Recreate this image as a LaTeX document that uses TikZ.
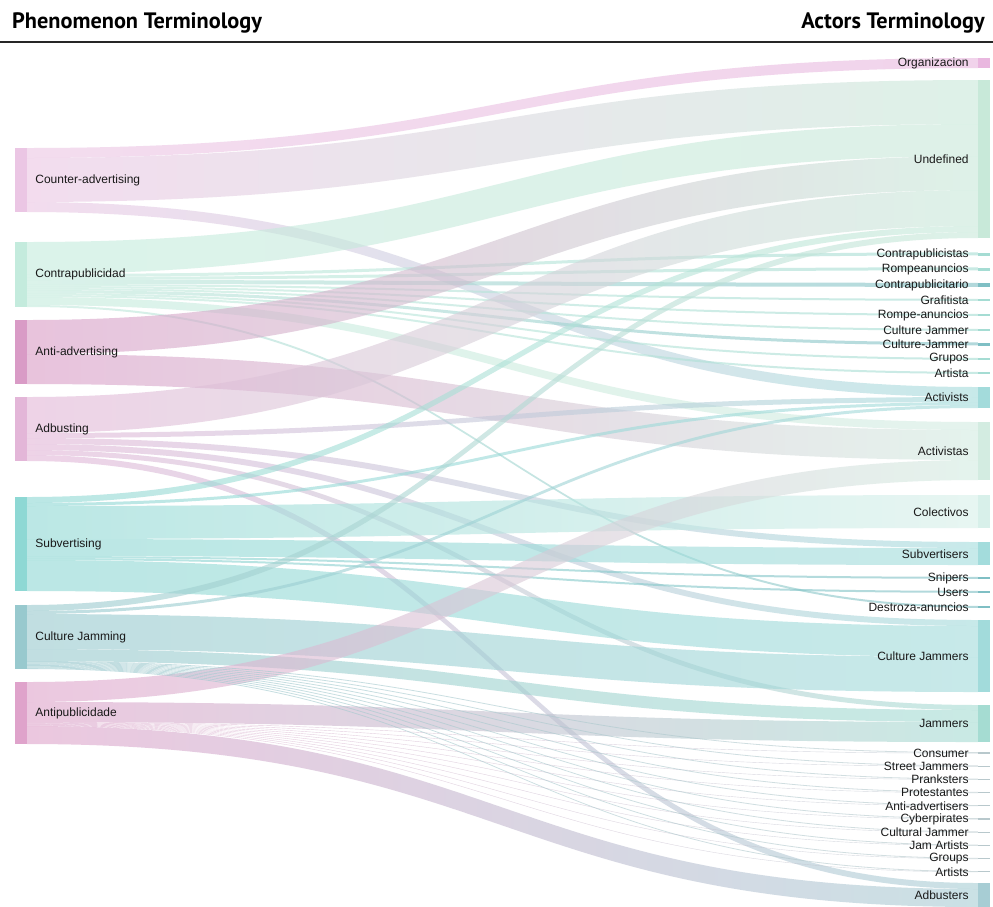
\documentclass[tikz,border=0pt]{standalone}
\usepackage{fontspec}
\setmainfont{Liberation Sans}
\newfontfamily\headfont{PT Sans}
\usetikzlibrary{calc,positioning}

\definecolor{caC}{HTML}{EBC6E4}
\definecolor{cpC}{HTML}{C4EBDD}
\definecolor{aaC}{HTML}{D99BC6}
\definecolor{abC}{HTML}{E3B6D8}
\definecolor{subC}{HTML}{8ED8D4}
\definecolor{cjC}{HTML}{98C9CE}
\definecolor{apC}{HTML}{DFA3CB}
\definecolor{orgC}{HTML}{E9B7DF}
\definecolor{undefC}{HTML}{C8E9D9}
\definecolor{thinC}{HTML}{A5DCD3}
\definecolor{actC}{HTML}{A3DBDB}
\definecolor{actaC}{HTML}{D3ECE1}
\definecolor{colC}{HTML}{D8F0EA}
\definecolor{subvC}{HTML}{A3DCDC}
\definecolor{snipC}{HTML}{7FBFC4}
\definecolor{cjsC}{HTML}{A2DBDB}
\definecolor{jamC}{HTML}{A5DCD2}
\definecolor{smallC}{HTML}{B8C8CC}
\definecolor{adbC}{HTML}{A7CDD4}

% band from (source, offset) to (target, offset), width, colours
\def\flow#1#2#3#4#5#6#7{%
  \shade[flowband, left color=#6, right color=#7]
    let \p1=($(#1.north east)+(0,{#2})$), \p2=($(#3.north west)+(0,{#4})$) in
    (\p1) .. controls ({(\x1+\x2)/2},\y1) and ({(\x1+\x2)/2},\y2) .. (\p2)
    -- (\x2,{\y2-#5pt})
    .. controls ({(\x1+\x2)/2},{\y2-#5pt}) and ({(\x1+\x2)/2},{\y1-#5pt}) .. (\x1,{\y1-#5pt})
    -- cycle;}

\tikzset{
  lbar/.style={rectangle, inner sep=0pt, minimum width=12pt, anchor=north},
  rbar/.style={rectangle, inner sep=0pt, minimum width=12pt, anchor=north},
  rthin/.style={rbar, anchor=center},
  flowband/.style={opacity=.6},
  llab/.style={font=\fontsize{12}{14}\selectfont, text=black!90, inner sep=0pt},
  rlab/.style={font=\fontsize{12}{14}\selectfont, text=black!90, inner sep=0pt},
  headlab/.style={font=\headfont\bfseries\fontsize{22.3}{26}\selectfont, inner sep=0pt},
  headrule/.style={line width=2.5pt, black!85}
}

\begin{document}
\begin{tikzpicture}[x=1pt, y=-1pt]
  %%%%% START %%%%%
  \fill[white] (0,0) rectangle (993,906);
  \useasboundingbox (0,0) rectangle (993,906);

  % header
  \node[headlab, anchor=base west] (phen) at (12,28.5) {Phenomenon Terminology};
  \node[headlab, anchor=base east] (acto) at (985,28.5) {Actors Terminology};
  \draw[headrule] (0,42) -- (993,42);

  % phenomenon terms
  \node[lbar, fill=caC, minimum height=64pt] (ca) at (21,148) {};
  \node[lbar, fill=cpC, minimum height=65pt] (cp) at (21,242) {};
  \node[lbar, fill=aaC, minimum height=64pt] (aa) at (21,320) {};
  \node[lbar, fill=abC, minimum height=64pt] (ab) at (21,397) {};
  \node[lbar, fill=subC, minimum height=94pt] (sub) at (21,497) {};
  \node[lbar, fill=cjC, minimum height=64pt] (cj) at (21,605) {};
  \node[lbar, fill=apC, minimum height=62pt] (ap) at (21,682) {};

  % actors terms
  \node[rbar, fill=orgC, minimum height=10pt] (org) at (984,58) {};
  \node[rbar, fill=undefC, minimum height=158pt] (undef) at (984,80) {};
  \node[rthin, fill=thinC, minimum height=3pt] (t1) at (984,254) {};
  \node[rthin, fill=thinC, minimum height=3pt] (t2) at (984,269) {};
  \node[rthin, fill=snipC, minimum height=4pt] (t3) at (984,285) {};
  \node[rthin, fill=thinC, minimum height=2pt] (t4) at (984,300) {};
  \node[rthin, fill=thinC, minimum height=2pt] (t5) at (984,315) {};
  \node[rthin, fill=thinC, minimum height=2pt] (t6) at (984,330) {};
  \node[rthin, fill=snipC, minimum height=3pt] (t7) at (984,344) {};
  \node[rthin, fill=thinC, minimum height=2pt] (t8) at (984,359) {};
  \node[rthin, fill=thinC, minimum height=2pt] (t9) at (984,373) {};
  \node[rbar, fill=actC, minimum height=21pt] (activists) at (984,387) {};
  \node[rbar, fill=actaC, minimum height=58pt] (activistas) at (984,422) {};
  \node[rbar, fill=colC, minimum height=33pt] (colectivos) at (984,495) {};
  \node[rbar, fill=subvC, minimum height=23pt] (subvertisers) at (984,542) {};
  \node[rthin, fill=snipC, minimum height=2pt] (snipers) at (984,578) {};
  \node[rthin, fill=snipC, minimum height=2pt] (users) at (984,592) {};
  \node[rthin, fill=snipC, minimum height=2pt] (destroza) at (984,607) {};
  \node[rbar, fill=cjsC, minimum height=72pt] (cjammers) at (984,620) {};
  \node[rbar, fill=jamC, minimum height=37pt] (jammers) at (984,705) {};
  \foreach \i in {0,...,9}
    \node[rthin, fill=smallC, minimum height=1.2pt] (s\i) at (984,{753+13.2*\i}) {};
  \node[rbar, fill=adbC, minimum height=24pt] (adbusters) at (984,883) {};

  % flows
  \flow{ca}{0}{org}{0}{10}{caC}{orgC}
  \flow{ca}{10}{undef}{0}{44}{caC}{undefC}
  \flow{ca}{54}{activists}{0}{10}{caC}{actC}

  \flow{cp}{0}{undef}{44}{32}{cpC}{undefC}
  \flow{cp}{32}{t1}{0}{3}{cpC}{thinC}
  \flow{cp}{35}{t2}{0}{3}{cpC}{thinC}
  \flow{cp}{38}{t3}{0}{4}{cpC}{snipC}
  \flow{cp}{42}{t4}{0}{2}{cpC}{thinC}
  \flow{cp}{44}{t5}{0}{2}{cpC}{thinC}
  \flow{cp}{46}{t6}{0}{2}{cpC}{thinC}
  \flow{cp}{48}{t7}{0}{3}{cpC}{snipC}
  \flow{cp}{51}{t8}{0}{2}{cpC}{thinC}
  \flow{cp}{53}{t9}{0}{2}{cpC}{thinC}
  \flow{cp}{55}{activistas}{0}{8}{cpC}{actaC}
  \flow{cp}{63}{destroza}{0}{2}{cpC}{snipC}

  \flow{aa}{0}{undef}{76}{34}{aaC}{undefC}
  \flow{aa}{34}{activistas}{8}{30}{aaC}{actaC}

  \flow{ab}{0}{undef}{110}{36}{abC}{undefC}
  \flow{ab}{36}{activists}{10}{5}{abC}{actC}
  \flow{ab}{41}{subvertisers}{0}{6}{abC}{subvC}
  \flow{ab}{47}{cjammers}{0}{6}{abC}{cjsC}
  \flow{ab}{53}{jammers}{0}{5}{abC}{jamC}
  \flow{ab}{58}{adbusters}{0}{6}{abC}{adbC}

  \flow{sub}{0}{undef}{146}{6}{subC}{undefC}
  \flow{sub}{6}{activists}{15}{3}{subC}{actC}
  \flow{sub}{9}{colectivos}{0}{33}{subC}{colC}
  \flow{sub}{42}{subvertisers}{6}{17}{subC}{subvC}
  \flow{sub}{59}{snipers}{0}{2}{subC}{snipC}
  \flow{sub}{61}{users}{0}{2}{subC}{snipC}
  \flow{sub}{63}{cjammers}{6}{31}{subC}{cjsC}

  \flow{cj}{0}{undef}{152}{6}{cjC}{undefC}
  \flow{cj}{6}{activists}{18}{3}{cjC}{actC}
  \flow{cj}{9}{cjammers}{37}{35}{cjC}{cjsC}
  \flow{cj}{44}{jammers}{5}{12}{cjC}{jamC}

  \flow{ap}{0}{activistas}{38}{20}{apC}{actaC}
  \flow{ap}{20}{jammers}{17}{20}{apC}{jamC}
  \flow{ap}{44}{adbusters}{6}{18}{apC}{adbC}

  \foreach \i in {0,...,9} {
    \flow{cj}{56+0.8*\i}{s\i}{0}{0.8}{cjC}{smallC}
    \flow{ap}{40+0.4*\i}{s\i}{0.8}{0.4}{apC}{smallC}
  }

  % labels
  \node[llab, right=8pt of ca] {Counter-advertising};
  \node[llab, right=8pt of cp] {Contrapublicidad};
  \node[llab, right=8pt of aa] {Anti-advertising};
  \node[llab, right=8pt of ab] {Adbusting};
  \node[llab, right=8pt of sub] {Subvertising};
  \node[llab, right=8pt of cj] {Culture Jamming};
  \node[llab, right=8pt of ap] {Antipublicidade};

  \node[rlab, left=9pt of org] {Organizacion};
  \node[rlab, left=9pt of undef] {Undefined};
  \node[rlab, left=9pt of t1] {Contrapublicistas};
  \node[rlab, left=9pt of t2] {Rompeanuncios};
  \node[rlab, left=9pt of t3] {Contrapublicitario};
  \node[rlab, left=9pt of t4] {Grafitista};
  \node[rlab, left=9pt of t5] {Rompe-anuncios};
  \node[rlab, left=9pt of t6] {Culture Jammer};
  \node[rlab, left=9pt of t7] {Culture-Jammer};
  \node[rlab, left=9pt of t8] {Grupos};
  \node[rlab, left=9pt of t9] {Artista};
  \node[rlab, left=9pt of activists] {Activists};
  \node[rlab, left=9pt of activistas] {Activistas};
  \node[rlab, left=9pt of colectivos] {Colectivos};
  \node[rlab, left=9pt of subvertisers] {Subvertisers};
  \node[rlab, left=9pt of snipers] {Snipers};
  \node[rlab, left=9pt of users] {Users};
  \node[rlab, left=9pt of destroza] {Destroza-anuncios};
  \node[rlab, left=9pt of cjammers] {Culture Jammers};
  \node[rlab, left=9pt of jammers] {Jammers};
  \foreach \txt [count=\j from 0] in {Consumer, Street Jammers, Pranksters, Protestantes, Anti-advertisers, Cyberpirates, Cultural Jammer, Jam Artists, Groups, Artists}
    \node[rlab, left=9pt of s\j] {\txt};
  \node[rlab, left=9pt of adbusters] {Adbusters};
  %%%%% END %%%%%
\end{tikzpicture}
\end{document}
